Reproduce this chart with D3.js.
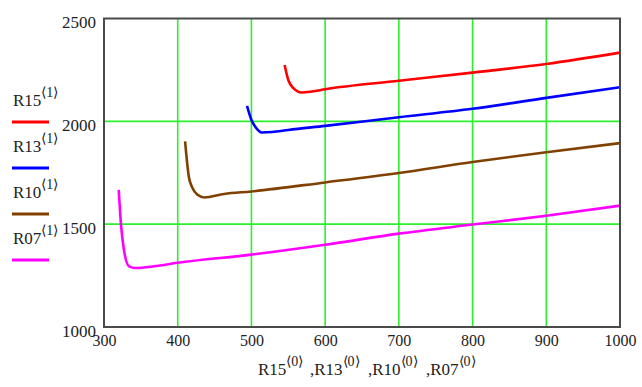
<!DOCTYPE html>
<html>
<head>
<meta charset="utf-8">
<script src="https://cdn.jsdelivr.net/npm/d3@7/dist/d3.min.js"></script>
<style>
  html, body { margin: 0; padding: 0; background: #ffffff; }
  svg { display: block; }
  text { font-family: "Liberation Serif", "Times New Roman", serif; fill: #222; }
</style>
</head>
<body>
<svg id="chart" width="642" height="387"></svg>
<script>
// Series: first column <0> (x) and second column <1> (y) for each matrix
const seriesNames = ["R15", "R13", "R10", "R07"];
const seriesColors = ["#ff0000", "#0000ff", "#804000", "#ff00ff"];

const r15X = [545, 550, 557, 568, 582, 600, 700, 800, 900, 1000];
const r15Y = [2274, 2201, 2161, 2140, 2145, 2156, 2197, 2237, 2279, 2334];

const r13X = [494, 500, 505, 514, 528, 550, 600, 700, 800, 900, 1000];
const r13Y = [2075, 2007, 1975, 1946, 1948, 1958, 1978, 2020, 2061, 2114, 2166];

const r10X = [410, 415, 420, 427, 436, 463, 500, 600, 700, 800, 900, 1000];
const r10Y = [1902, 1732, 1676, 1643, 1630, 1647, 1659, 1703, 1749, 1802, 1850, 1894];

const r07X = [320, 323, 327, 334, 343, 368, 400, 500, 600, 700, 800, 900, 1000];
const r07Y = [1667, 1500, 1376, 1295, 1287, 1295, 1312, 1352, 1400, 1454, 1498, 1541, 1590];

const xTicks = [300, 400, 500, 600, 700, 800, 900, 1000];
const yTicks = [1000, 1500, 2000, 2500];

const seriesX = [r15X, r13X, r10X, r07X];
const seriesY = [r15Y, r13Y, r10Y, r07Y];

const svg = d3.select("#chart");
const plot = { left: 104, right: 620, top: 18.5, bottom: 327 };

const x = d3.scaleLinear().domain([300, 1000]).range([plot.left, plot.right]);
const y = d3.scaleLinear().domain([1000, 2500]).range([plot.bottom, plot.top]);

// grid lines
const grid = svg.append("g").attr("stroke", "#2df02d").attr("stroke-width", 1.6);
grid.selectAll("line.vx").data(xTicks.slice(1, -1)).join("line")
  .attr("x1", d => x(d)).attr("x2", d => x(d))
  .attr("y1", plot.top).attr("y2", plot.bottom);
grid.selectAll("line.hy").data(yTicks.slice(1, -1)).join("line")
  .attr("x1", plot.left).attr("x2", plot.right)
  .attr("y1", d => y(d)).attr("y2", d => y(d));

// curves
const line = d3.line()
  .x(d => x(d[0]))
  .y(d => y(d[1]))
  .curve(d3.curveMonotoneX);

seriesNames.forEach((name, i) => {
  const pts = seriesX[i].map((v, k) => [v, seriesY[i][k]]);
  svg.append("path")
    .datum(pts)
    .attr("fill", "none")
    .attr("stroke", seriesColors[i])
    .attr("stroke-width", 2.6)
    .attr("stroke-linejoin", "round")
    .attr("d", line);
});

// frame
svg.append("rect")
  .attr("x", plot.left).attr("y", plot.top)
  .attr("width", plot.right - plot.left).attr("height", plot.bottom - plot.top)
  .attr("fill", "none").attr("stroke", "#4a4a4a").attr("stroke-width", 2);

// x axis labels
const xAxis = d3.axisBottom(x).tickValues(xTicks).tickSize(0).tickPadding(0)
  .tickFormat(d3.format("d"));
const gx = svg.append("g").attr("transform", `translate(0,${plot.bottom})`).call(xAxis);
gx.select(".domain").remove();
gx.selectAll("text")
  .attr("y", 19).attr("dy", null)
  .attr("font-size", 16)
  .attr("fill", "#222");

// y axis labels
const yAxis = d3.axisLeft(y).tickValues(yTicks).tickSize(0).tickPadding(0)
  .tickFormat(d3.format("d"));
const gy = svg.append("g").attr("transform", `translate(96,0)`).call(yAxis);
gy.select(".domain").remove();
gy.selectAll("text")
  .attr("x", 0).attr("dy", 9)
  .attr("font-size", 17)
  .attr("fill", "#222");

// legend
const legend = svg.append("g");
seriesNames.forEach((name, i) => {
  const base = 106 + i * 46;
  const t = legend.append("text").attr("x", 13).attr("y", base).attr("font-size", 17);
  t.append("tspan").text(name);
  t.append("tspan").attr("dy", -9).attr("font-size", 14).text("\u27E81\u27E9");
  legend.append("line")
    .attr("x1", 12).attr("x2", 49)
    .attr("y1", base + 16).attr("y2", base + 16)
    .attr("stroke", seriesColors[i]).attr("stroke-width", 3);
});

// x axis title: one "name<0>" group per series, separated by commas
const titleStarts = [258, 310, 368, 426];
seriesNames.forEach((name, i) => {
  const t = svg.append("text").attr("x", titleStarts[i]).attr("y", 375).attr("font-size", 17);
  t.append("tspan").text((i === 0 ? "" : ",") + name);
  t.append("tspan").attr("dy", -9).attr("font-size", 14).text("\u27E80\u27E9");
});
</script>
</body>
</html>
